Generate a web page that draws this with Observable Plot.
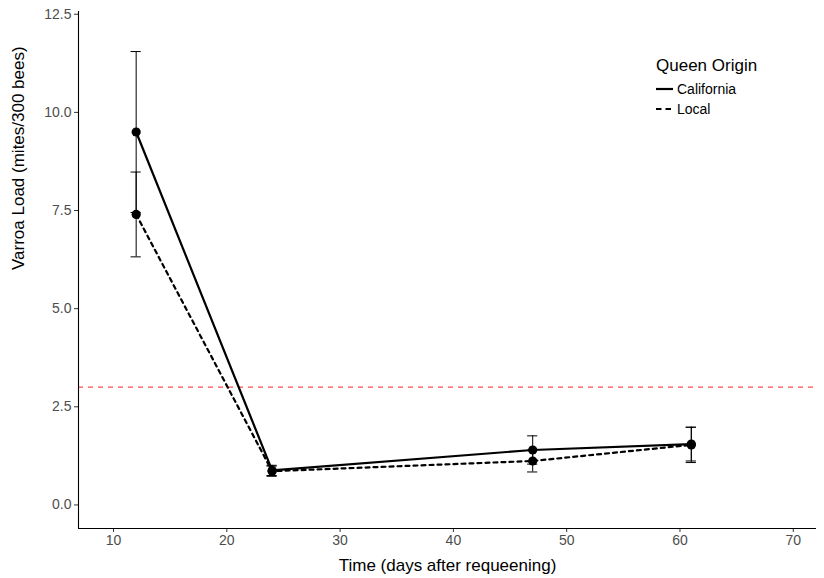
<!DOCTYPE html>
<html>
<head>
<meta charset="utf-8">
<script src="https://cdn.jsdelivr.net/npm/d3@7"></script>
<script src="https://cdn.jsdelivr.net/npm/@observablehq/plot@0.6"></script>
<style>
  html, body { margin: 0; padding: 0; background: #fff; }
  #wrap { position: relative; width: 824px; height: 578px; font-family: "Liberation Sans", Arial, sans-serif; }
  #legend { position: absolute; left: 656px; top: 56px; color: #000; }
  #legend .title { font-size: 17px; margin-bottom: 3px; }
  #legend .item { display: flex; align-items: center; font-size: 14px; height: 20px; }
  #legend svg { margin-right: 4px; }
</style>
</head>
<body>
<div id="wrap"></div>
<script>
// ---- data ----
const days = [12, 24, 47, 61];
const groups = ["California", "Local"];
const californiaMean = [9.50, 0.88, 1.40, 1.55];
const californiaErr  = [2.05, 0.13, 0.36, 0.43];
const localMean      = [7.40, 0.86, 1.12, 1.53];
const localErr       = [1.08, 0.13, 0.28, 0.45];
const threshold = [3];
const xTicks = [10, 20, 30, 40, 50, 60, 70];
const yTicks = [0, 2.5, 5, 7.5, 10, 12.5];
const xDomain = [6.91, 72.05];
const yDomain = [-0.6, 12.57];
const capHalf = 0.45;

const rows = [];
days.forEach((d, i) => {
  rows.push({day: d, group: "California", mean: californiaMean[i], err: californiaErr[i]});
  rows.push({day: d, group: "Local", mean: localMean[i], err: localErr[i]});
});

const dashFor = g => g === "Local" ? "4,4" : null;

const chart = Plot.plot({
  width: 824,
  height: 578,
  marginLeft: 78,
  marginRight: 8,
  marginTop: 11,
  marginBottom: 50,
  style: {fontFamily: "Liberation Sans, Arial, sans-serif", background: "#fff"},
  x: {domain: xDomain},
  y: {domain: yDomain},
  marks: [
    Plot.ruleY(threshold, {stroke: "#ff4d4d", strokeWidth: 1.3, strokeDasharray: "5,5"}),
    // error bars
    Plot.ruleX(rows, {x: "day", y1: d => d.mean - d.err, y2: d => d.mean + d.err, stroke: "#000", strokeWidth: 1}),
    Plot.ruleY(rows, {y: d => d.mean + d.err, x1: d => d.day - capHalf, x2: d => d.day + capHalf, stroke: "#000", strokeWidth: 1}),
    Plot.ruleY(rows, {y: d => d.mean - d.err, x1: d => d.day - capHalf, x2: d => d.day + capHalf, stroke: "#000", strokeWidth: 1}),
    // lines
    Plot.line(rows.filter(d => d.group === "California"), {x: "day", y: "mean", stroke: "#000", strokeWidth: 2.2}),
    Plot.line(rows.filter(d => d.group === "Local"), {x: "day", y: "mean", stroke: "#000", strokeWidth: 2.2, strokeDasharray: "4,4"}),
    Plot.dot(rows, {x: "day", y: "mean", r: 4.6, fill: "#000", stroke: "none"}),
    // axes
    Plot.axisX({ticks: xTicks, tickSize: 4, tickPadding: 3, stroke: "#333", fill: "#4d4d4d", fontSize: 14,
      tickFormat: d => String(d), label: null}),
    Plot.axisY({ticks: yTicks, tickSize: 4, tickPadding: 3, stroke: "#333", fill: "#4d4d4d", fontSize: 14,
      tickFormat: d3.format(".1f"), label: null}),
    Plot.ruleX([xDomain[0]], {stroke: "#000", strokeWidth: 1.1}),
    Plot.ruleY([yDomain[0]], {stroke: "#000", strokeWidth: 1.1}),
    Plot.text(["Time (days after requeening)"], {frameAnchor: "bottom", dy: 42, fontSize: 17, fill: "#000"}),
    Plot.text(["Varroa Load (mites/300 bees)"], {frameAnchor: "left", dx: -60, rotate: -90, fontSize: 17, fill: "#000"})
  ]
});

const wrap = document.getElementById("wrap");
wrap.appendChild(chart);

const legend = document.createElement("div");
legend.id = "legend";
let html = '<div class="title">Queen Origin</div>';
groups.forEach(g => {
  const dash = dashFor(g);
  html += '<div class="item"><svg width="17" height="10"><line x1="0" x2="17" y1="5" y2="5" stroke="#000" stroke-width="2.2"' +
    (dash ? ' stroke-dasharray="5.5,4"' : '') + '/></svg>' + g + '</div>';
});
legend.innerHTML = html;
wrap.appendChild(legend);
</script>
</body>
</html>
